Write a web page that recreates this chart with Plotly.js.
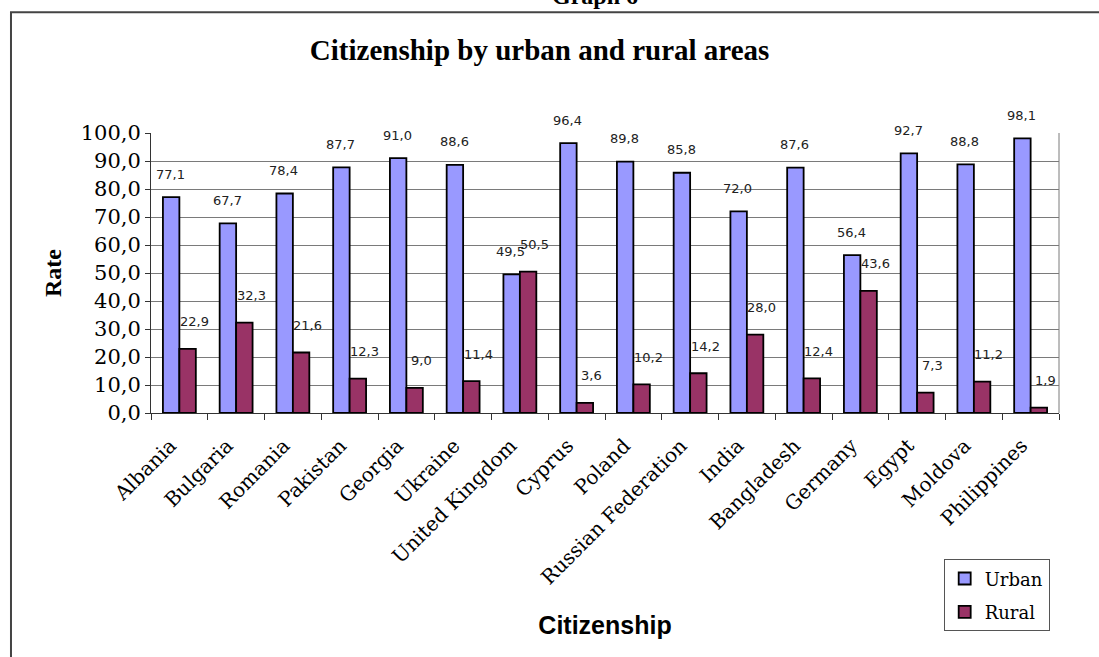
<!DOCTYPE html>
<html>
<head>
<meta charset="utf-8">
<script src="https://cdn.plot.ly/plotly-3.0.1.min.js"></script>
<style>
  html, body { margin: 0; padding: 0; background: #ffffff; }
  #chart { width: 1099px; height: 657px; }
</style>
</head>
<body>
<div id="chart"></div>
<script>
const countries = ["Albania", "Bulgaria", "Romania", "Pakistan", "Georgia", "Ukraine", "United Kingdom", "Cyprus", "Poland", "Russian Federation", "India", "Bangladesh", "Germany", "Egypt", "Moldova", "Philippines"];
const urban = [77.1, 67.7, 78.4, 87.7, 91.0, 88.6, 49.5, 96.4, 89.8, 85.8, 72.0, 87.6, 56.4, 92.7, 88.8, 98.1];
const rural = [22.9, 32.3, 21.6, 12.3, 9.0, 11.4, 50.5, 3.6, 10.2, 14.2, 28.0, 12.4, 43.6, 7.3, 11.2, 1.9];
const yTickVals = [0, 10, 20, 30, 40, 50, 60, 70, 80, 90, 100];

const fmt = v => v.toFixed(1).replace('.', ',');

const traces = [
  {
    type: 'bar', name: 'Urban', x: countries, y: urban, legendgroup: 'urban',
    marker: { color: '#9999ff', line: { color: '#000000', width: 1.8 } },
    hoverinfo: 'x+y'
  },
  {
    type: 'bar', name: 'Rural', x: countries, y: rural, legendgroup: 'rural',
    marker: { color: '#993366', line: { color: '#000000', width: 1.8 } },
    hoverinfo: 'x+y'
  }
];

const labelFont = { family: 'DejaVu Sans, Verdana, sans-serif', size: 13, color: '#222222' };
const annotations = [];
countries.forEach((c, i) => {
  annotations.push({ x: c, y: urban[i], xref: 'x', yref: 'y', text: fmt(urban[i]), showarrow: false,
    xshift: -9, yshift: 23, font: labelFont });
  annotations.push({ x: c, y: rural[i], xref: 'x', yref: 'y', text: fmt(rural[i]), showarrow: false,
    xshift: 15, yshift: 27, font: labelFont });
});
// cut-off heading above the frame
annotations.push({ x: 0.489, y: 1.4346, xref: 'paper', yref: 'paper', xanchor: 'center', yanchor: 'bottom',
  text: '<b>Graph 6</b>', showarrow: false,
  font: { family: 'Liberation Serif, serif', size: 24, color: '#000000' } });

const layout = {
  width: 1099, height: 657,
  paper_bgcolor: '#ffffff', plot_bgcolor: '#ffffff',
  separators: ',.',
  margin: { l: 151, r: 40, t: 133, b: 244, pad: 0 },
  title: {
    text: '<b>Citizenship by urban and rural areas</b>',
    x: 0.491, xanchor: 'center', xref: 'container',
    y: 0.924, yanchor: 'middle', yref: 'container',
    font: { family: 'Liberation Serif, serif', size: 29, color: '#000000' }
  },
  barmode: 'group', bargap: 0.42, bargroupgap: 0,
  xaxis: {
    type: 'category',
    tickangle: -45,
    tickfont: { family: 'DejaVu Serif, serif', size: 20, color: '#000000' },
    ticks: 'outside', tickson: 'boundaries', ticklen: 6, tickcolor: '#333333', tickwidth: 1,
    ticklabelshift: -9, ticklabelstandoff: 12,
    showline: true, linecolor: '#333333', linewidth: 1,
    showgrid: false,
    title: { text: '<b>Citizenship</b>', standoff: 28,
      font: { family: 'Liberation Sans, Arial, sans-serif', size: 25, color: '#000000' } }
  },
  yaxis: {
    range: [0, 100], tickvals: yTickVals, tickformat: '.1f',
    tickfont: { family: 'DejaVu Serif, serif', size: 21, color: '#000000' },
    ticks: 'outside', ticklen: 5, tickcolor: '#333333',
    showline: true, linecolor: '#333333', linewidth: 1,
    showgrid: true, gridcolor: '#7a7a7a', gridwidth: 1,
    zeroline: false,
    title: { text: '<b>Rate</b>', standoff: 12,
      font: { family: 'Liberation Serif, serif', size: 24, color: '#000000' } }
  },
  legend: {
    x: 0.873, y: -0.5225, xanchor: 'left', yanchor: 'top',
    bgcolor: '#ffffff', bordercolor: '#555555', borderwidth: 1,
    font: { family: 'DejaVu Serif, serif', size: 18, color: '#000000' },
    tracegroupgap: 7
  },
  annotations: annotations,
  shapes: [
    { type: 'line', xref: 'paper', yref: 'paper', x0: 1, x1: 1, y0: 0, y1: 1,
      line: { color: '#7a7a7a', width: 1 } },
    { type: 'rect', xref: 'paper', yref: 'paper', x0: -0.1542, x1: 1.06, y0: -0.95, y1: 1.431,
      line: { color: '#444444', width: 2 }, fillcolor: 'rgba(0,0,0,0)', layer: 'below' }
  ],
  showlegend: true
};

Plotly.newPlot('chart', traces, layout, { displayModeBar: false, staticPlot: true });
</script>
</body>
</html>
